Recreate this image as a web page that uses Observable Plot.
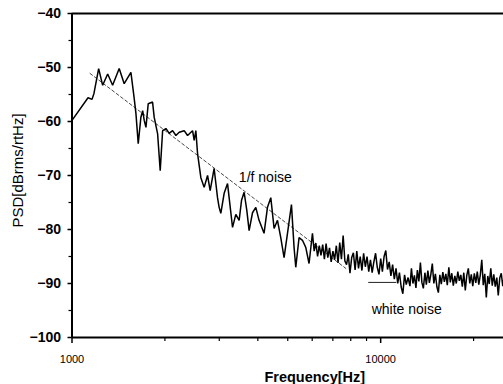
<!DOCTYPE html>
<html><head><meta charset="utf-8">
<script src="https://cdn.jsdelivr.net/npm/d3@7"></script>
<script src="https://cdn.jsdelivr.net/npm/@observablehq/plot@0.6"></script>
<style>body{margin:0;background:#fff}</style>
</head><body><div id="chart"></div>
<script>
const freqHz = [
  1000,1127,1161,1178,1220,1257,1305,1354,1422,1476,
  1552,1591,1611,1639,1672,1694,1714,1736,1766,1824,
  1846,1894,1931,1966,2015,2065,2118,2171,2225,2309,
  2368,2458,2488,2519,2551,2615,2680,2749,2803,2887,
  2961,2997,3035,3111,3191,3229,3312,3394,3479,3542,
  3611,3685,3748,3844,3940,4037,4190,4298,4406,4516,
  4631,4746,4865,4990,5140,5241,5308,5440,5580,5719,
  5861,
  6012,6089,6167,6246,6326,6407,6489,6572,6656,6741,
  6827,6914,7003,7093,7184,7276,7369,7463,7559,7656,
  7754,7853,7954,8056,8159,8263,8369,8476,8585,8695,
  8806,8919,9033,9149,9266,9385,9505,9627,9750,9875,
  10001,10129,10259,10390,10523,10658,10794,10932,11072,11214,
  11358,11503,11650,11799,11950,12103,12270,
  12440,12580,12720,12860,13010,13150,13300,13450,13600,13750,
  13910,14060,14220,14380,14540,14700,14870,15040,15210,15380,
  15550,15720,15900,16080,16260,16440,16630,16810,17000,17190,
  17390,17580,17780,17980,18180,18390,18590,18800,19010,19230,
  19440,19660,19880,20110,20330,20560,20790,21030,21260,21500,
  21740,21990,22230,22480,22740,22990,23250,23510,23780,24040,
  24310,24590,24860,25000
];
const psdDb = [
  -59.8,-55.6,-55.9,-54.8,-50.2,-53.3,-51.2,-53.3,-50.2,-53.0,
  -50.9,-55.8,-58.5,-64.1,-59.2,-58.0,-59.8,-61.1,-56.7,-56.4,
  -59.2,-62.3,-69.1,-61.7,-61.3,-62.2,-61.7,-62.6,-62.0,-61.7,
  -62.6,-61.7,-63.5,-61.7,-65.9,-70.4,-72.2,-70.0,-72.8,-68.7,
  -74.1,-75.9,-77.0,-73.3,-71.5,-74.1,-79.6,-77.2,-78.3,-74.6,
  -73.1,-76.5,-80.2,-76.9,-75.9,-78.3,-80.7,-75.9,-74.1,-79.8,
  -78.3,-81.5,-85.2,-80.7,-75.4,-83.3,-87.0,-81.5,-82.0,-83.3,
  -86.3,
  -80.7,-84.0,-82.5,-85.0,-83.0,-84.8,-82.8,-85.5,-82.6,-85.2,
  -83.4,-86.0,-84.0,-85.6,-83.0,-86.2,-82.4,-85.5,-81.1,-85.8,
  -86.5,-84.6,-88.1,-85.2,-84.3,-87.5,-84.0,-87.2,-85.0,-87.6,
  -84.4,-86.9,-85.0,-87.8,-85.6,-88.0,-86.0,-84.4,-87.0,-88.3,
  -85.4,-87.8,-85.0,-83.9,-87.4,-86.0,-88.6,-86.5,-89.2,-87.2,
  -90.0,-88.0,-90.6,-91.9,-88.4,-90.2,-88.9,
  -90.5,-87.2,-90.0,-88.5,-90.8,-87.5,-89.6,-86.1,-89.8,-90.9,
  -88.0,-90.2,-87.6,-89.9,-88.3,-86.3,-90.0,-88.2,-90.6,-91.7,
  -88.4,-90.1,-87.9,-89.7,-88.2,-90.3,-87.0,-89.8,-88.1,-90.4,
  -88.6,-90.0,-87.8,-89.5,-88.4,-90.6,-88.0,-91.3,-88.5,-87.2,
  -90.0,-88.3,-90.5,-88.1,-89.9,-87.8,-90.2,-88.4,-85.6,-90.3,
  -88.2,-92.6,-88.6,-90.1,-87.2,-90.4,-88.3,-90.6,-88.9,-92.2,
  -89.0,-88.1,-90.5,-89.4
];
const fitFreqHz = [1144, 7710];
const fitDb = [-51.1, -87.2];
const whiteFreqHz = [9140, 11200];
const whiteDb = [-89.8, -89.8];
const noteLabels = ["1/f noise", "white noise"];
const noteFreqHz = [3472, 9353];
const noteDb = [-70.4, -94.9];
const yMajorTicks = [-100, -90, -80, -70, -60, -50, -40];
const yMinorTicks = [-95, -85, -75, -65, -55, -45];
const xMajorTicks = [1000, 10000];
const xMinorTicks = [2000, 3000, 4000, 5000, 6000, 7000, 8000, 9000, 20000];
const xTitle = "Frequency[Hz]";
const yTitle = "PSD[dBrms/rtHz]";

const n = Math.min(freqHz.length, psdDb.length);
const trace = d3.range(n).map(i => ({f: freqHz[i], db: psdDb[i]}));
const fit = fitFreqHz.map((f, i) => ({f, db: fitDb[i]}));
const white = whiteFreqHz.map((f, i) => ({f, db: whiteDb[i]}));
const notes = noteLabels.map((t, i) => ({t, f: noteFreqHz[i], db: noteDb[i]}));

const chart = Plot.plot({
  width: 503, height: 384,
  marginLeft: 71.5, marginRight: 0, marginTop: 13, marginBottom: 47,
  style: {fontFamily: "Liberation Sans, Arial, sans-serif", background: "#fff", color: "#000", overflow: "visible"},
  x: {type: "log", domain: [1000, 25000]},
  y: {domain: [-100, -40]},
  marks: [
    Plot.axisY(yMajorTicks, {tickSize: 4, tickPadding: 7, fontSize: 14, fontWeight: "bold", label: null, strokeWidth: 1.5, ariaLabel: "ymajor"}),
    Plot.axisY(yMinorTicks, {tickSize: 3, tickFormat: () => "", label: null, strokeWidth: 1.2}),
    Plot.axisX(xMajorTicks, {tickSize: 6, tickPadding: 12, fontSize: 11, label: null, strokeWidth: 1.5, tickFormat: d => String(d)}),
    Plot.axisX(xMinorTicks, {tickSize: 4, tickFormat: () => "", label: null, strokeWidth: 1.2}),
    Plot.line(fit, {x: "f", y: "db", stroke: "#333", strokeWidth: 0.9, strokeDasharray: "3,2.5"}),
    Plot.line(white, {x: "f", y: "db", stroke: "#222", strokeWidth: 1}),
    Plot.line(trace, {x: "f", y: "db", stroke: "#000", strokeWidth: 1.5, strokeLinejoin: "miter"}),
    Plot.ruleX([1000], {stroke: "#000", strokeWidth: 2}),
    Plot.ruleY([-100], {stroke: "#000", strokeWidth: 2}),
    Plot.ruleY([-40], {stroke: "#000", strokeWidth: 2}),
    Plot.text(notes, {x: "f", y: "db", text: "t", textAnchor: "start", lineAnchor: "middle", fontSize: 14, fill: "#000", ariaLabel: "notes"}),
    Plot.text([xTitle], {frameAnchor: "bottom", dx: 27, dy: 44, lineAnchor: "bottom", fontSize: 14.5, fontWeight: "bold", fill: "#000"}),
    Plot.text([yTitle], {frameAnchor: "left", dx: -54, dy: -5, rotate: -90, lineAnchor: "middle", textAnchor: "middle", fontSize: 15, fill: "#000"})
  ]
});
document.getElementById("chart").appendChild(chart);
d3.select(chart).selectAll('g[aria-label="notes"] text').attr("letter-spacing", "1px");
d3.select(chart).selectAll('g[aria-label="ymajor"] text').attr("letter-spacing", "0.5px");
</script>
</body></html>
